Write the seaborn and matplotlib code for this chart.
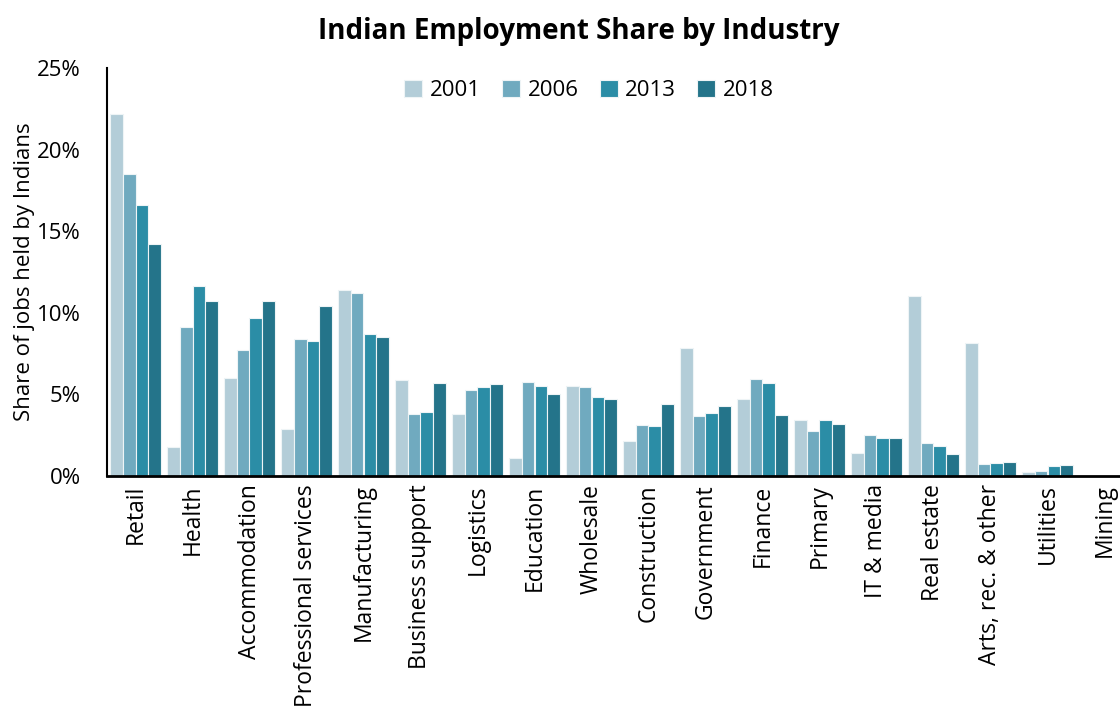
import numpy as np
import pandas as pd
import seaborn as sns
import matplotlib.pyplot as plt
from matplotlib.ticker import FixedLocator, PercentFormatter

# Datos (porcentaje de empleos)
industries = ["Retail", "Health", "Accommodation", "Professional services", "Manufacturing",
              "Business support", "Logistics", "Education", "Wholesale", "Construction",
              "Government", "Finance", "Primary", "IT & media", "Real estate",
              "Arts, rec. & other", "Utilities", "Mining"]
years = ["2001", "2006", "2013", "2018"]
share_2001 = [22.2, 1.8, 6.0, 2.9, 11.4, 5.9, 3.8, 1.08, 5.5, 2.16, 7.84, 4.7, 3.43, 1.43, 11.03, 8.15, 0.25, 0.01]
share_2006 = [18.5, 9.15, 7.7, 8.4, 11.2, 3.8, 5.27, 5.76, 5.43, 3.12, 3.68, 5.92, 2.78, 2.49, 2.02, 0.74, 0.33, 0.01]
share_2013 = [16.6, 11.65, 9.7, 8.3, 8.7, 3.95, 5.47, 5.5, 4.84, 3.06, 3.84, 5.68, 3.43, 2.31, 1.84, 0.8, 0.6, 0.02]
share_2018 = [14.2, 10.75, 10.75, 10.4, 8.5, 5.7, 5.64, 5.02, 4.72, 4.39, 4.29, 3.76, 3.17, 2.31, 1.33, 0.88, 0.67, 0.05]
colors = ["#b3cdd8", "#70aabf", "#2b8da6", "#24748a"]

df = pd.DataFrame({"Industry": industries, "2001": share_2001, "2006": share_2006,
                   "2013": share_2013, "2018": share_2018})
long_df = df.melt(id_vars="Industry", var_name="Year", value_name="Share")

sns.set_style("white", rc={"text.color": "black", "axes.labelcolor": "black",
                           "xtick.color": "black", "ytick.color": "black"})
plt.rcParams['font.family'] = ['Open Sans', 'DejaVu Sans']

fig = plt.figure(figsize=(11.2, 7.13), dpi=100)
ax = fig.add_axes([107 / 1120, 237 / 713, 1013 / 1120, 408 / 713])

sns.barplot(data=long_df, x="Industry", y="Share", hue="Year", hue_order=years,
            palette=colors, saturation=1, width=0.9, edgecolor="#eef4f6", linewidth=0.8, ax=ax)

ax.set_ylim(0, 25)
ax.set_xlim(-0.5, -0.5 + 1013 / 57)
ax.yaxis.set_major_locator(FixedLocator([0, 5, 10, 15, 20, 25]))
ax.yaxis.set_major_formatter(PercentFormatter(decimals=0))
ax.set_xticks(range(len(industries)))
ax.set_xticklabels(industries, rotation=90, fontsize=16.5)
ax.xaxis.set_minor_locator(FixedLocator(np.arange(0.5, len(industries), 1)))
ax.tick_params(axis="x", which="major", length=0, pad=6)
ax.tick_params(axis="x", which="minor", direction="in", length=6, width=2, color="black")
ax.tick_params(axis="y", direction="in", length=4, width=1.5, color="black", labelsize=16, pad=19)

for side in ["top", "right"]:
    ax.spines[side].set_visible(False)
ax.spines["left"].set_color("black")
ax.spines["left"].set_linewidth(1.5)
ax.spines["bottom"].set_color("black")
ax.spines["bottom"].set_linewidth(2)

ax.set_xlabel("")
ax.set_ylabel("Share of jobs held by Indians", fontsize=16)
ax.yaxis.set_label_coords(-0.071, 0.5)

fig.suptitle("Indian Employment Share by Industry", fontsize=20, fontweight="bold", y=0.976, x=0.517)

ax.legend(loc="upper center", bbox_to_anchor=(0.476, 1.02), ncol=4, frameon=False, fontsize=16,
          handlelength=0.8, handleheight=0.8, handletextpad=0.35, columnspacing=0.95)

fig.savefig("out.png", dpi=100)
